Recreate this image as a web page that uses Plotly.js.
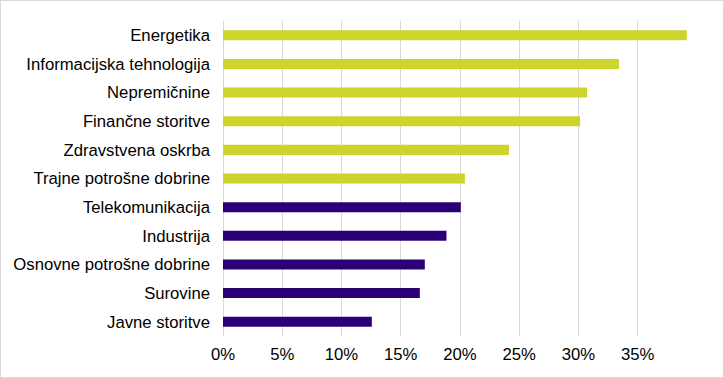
<!DOCTYPE html>
<html>
<head>
<meta charset="utf-8">
<script src="https://cdn.plot.ly/plotly-3.0.1.min.js"></script>
<style>
html,body{margin:0;padding:0;background:#fff;}
#wrap{position:relative;width:724px;height:378px;}
#chart{width:724px;height:378px;}
#frame{position:absolute;left:0;top:0;width:724px;height:378px;box-sizing:border-box;border:1px solid #d9d9d9;pointer-events:none;}
</style>
</head>
<body>
<div id="wrap"><div id="chart"></div><div id="frame"></div></div>
<script>
// Categories listed top to bottom
const categories = [
  "Energetika",
  "Informacijska tehnologija",
  "Nepremičnine",
  "Finančne storitve",
  "Zdravstvena oskrba",
  "Trajne potrošne dobrine",
  "Telekomunikacija",
  "Industrija",
  "Osnovne potrošne dobrine",
  "Surovine",
  "Javne storitve"
];
const values = [0.3914, 0.3342, 0.3072, 0.3013, 0.2413, 0.2041, 0.2007, 0.1886, 0.1703, 0.1661, 0.1256];
const groups = ["A","A","A","A","A","A","B","B","B","B","B"];
const groupColors = {A: "#CDD42B", B: "#2B0076"};
const tickValues = [0, 0.05, 0.10, 0.15, 0.20, 0.25, 0.30, 0.35];
const tickLabels = ["0%", "5%", "10%", "15%", "20%", "25%", "30%", "35%"];

const trace = {
  type: "bar",
  orientation: "h",
  y: categories,
  x: values,
  width: 0.35,
  marker: {color: groups.map(g => groupColors[g])},
  hoverinfo: "skip"
};

const FONT = "Liberation Sans, Arial, sans-serif";
const FS = 16.7;
const layout = {
  width: 724,
  height: 378,
  margin: {l: 223, r: 27, t: 21, b: 42},
  paper_bgcolor: "#ffffff",
  plot_bgcolor: "#ffffff",
  showlegend: false,
  font: {family: FONT, size: FS, color: "#000000"},
  xaxis: {
    range: [0, 0.40],
    tickvals: tickValues,
    ticktext: tickLabels,
    showgrid: true,
    gridcolor: "#d9d9d9",
    gridwidth: 1,
    zeroline: true,
    zerolinecolor: "#d9d9d9",
    zerolinewidth: 1,
    showline: false,
    ticks: "",
    ticklabelstandoff: 6,
    tickfont: {family: FONT, size: FS, color: "#000000"},
    fixedrange: true
  },
  yaxis: {
    type: "category",
    categoryorder: "array",
    categoryarray: categories,
    autorange: "reversed",
    showgrid: false,
    zeroline: false,
    showline: false,
    ticks: "",
    ticklabelstandoff: 12,
    tickfont: {family: FONT, size: FS, color: "#000000"},
    fixedrange: true
  }
};

Plotly.newPlot("chart", [trace], layout, {displayModeBar: false, staticPlot: true});
</script>
</body>
</html>
